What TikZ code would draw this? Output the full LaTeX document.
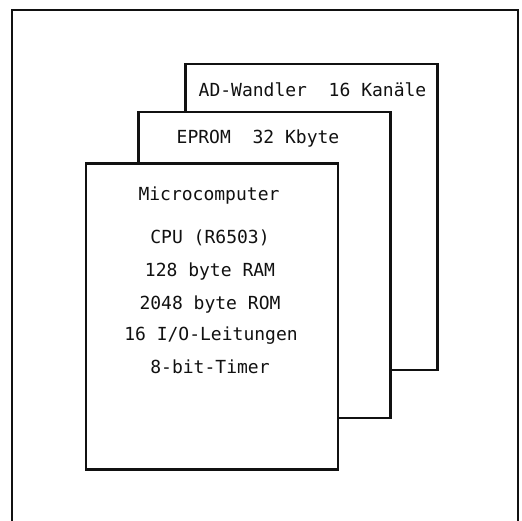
\documentclass[tikz,border=0pt]{standalone}
\usepackage{fontspec}
\newfontfamily\boardfont{DejaVu Sans Mono}
\usetikzlibrary{positioning}
\definecolor{ink}{HTML}{111111}
\tikzset{
  frame/.style={
    draw=ink, line width=2.2pt, fill=none,
    minimum width=506pt, minimum height=516pt, inner sep=0pt
  },
  board/.style={
    draw=ink, fill=white, line width=2.5pt,
    minimum width=252pt, minimum height=306pt, inner sep=0pt
  },
  lbl/.style={font=\boardfont\fontsize{18}{20}\selectfont, text=ink,
    inner sep=0pt, anchor=base}
}

\begin{document}
\begin{tikzpicture}[x=1pt, y=-1pt]

  \useasboundingbox (0,0) rectangle (522,521);

  % ---- outer frame (bottom edge runs off the page) -------------------------
  \node[frame] (outer) at (265, 268) {};

  % ---- back board: AD converter --------------------------------------------
  \node[board] (adc) at (311.5, 217) {};
  \node[lbl] (adc-t) at (312.5, 97) {AD-Wandler\ \ 16 Kanäle};

  % ---- middle board: EPROM -------------------------------------------------
  \node[board] (eprom) at (264.5, 265) {};
  \node[lbl] (eprom-t) at (258, 144) {EPROM\ \ 32 Kbyte};

  % ---- front board: microcomputer ------------------------------------------
  \node[board] (mc) at (212, 316.5) {};
  \node[lbl] (mc-t)   at (209, 201) {Microcomputer};
  \node[lbl] (mc-cpu) at (210, 244) {CPU (R6503)};
  \node[lbl] (mc-ram) at (210, 277) {128 byte RAM};
  \node[lbl] (mc-rom) at (210, 309) {2048 byte ROM};
  \node[lbl] (mc-io)  at (211, 341) {16 I/O-Leitungen};
  \node[lbl] (mc-tm)  at (210, 373) {8-bit-Timer};

\end{tikzpicture}
\end{document}
